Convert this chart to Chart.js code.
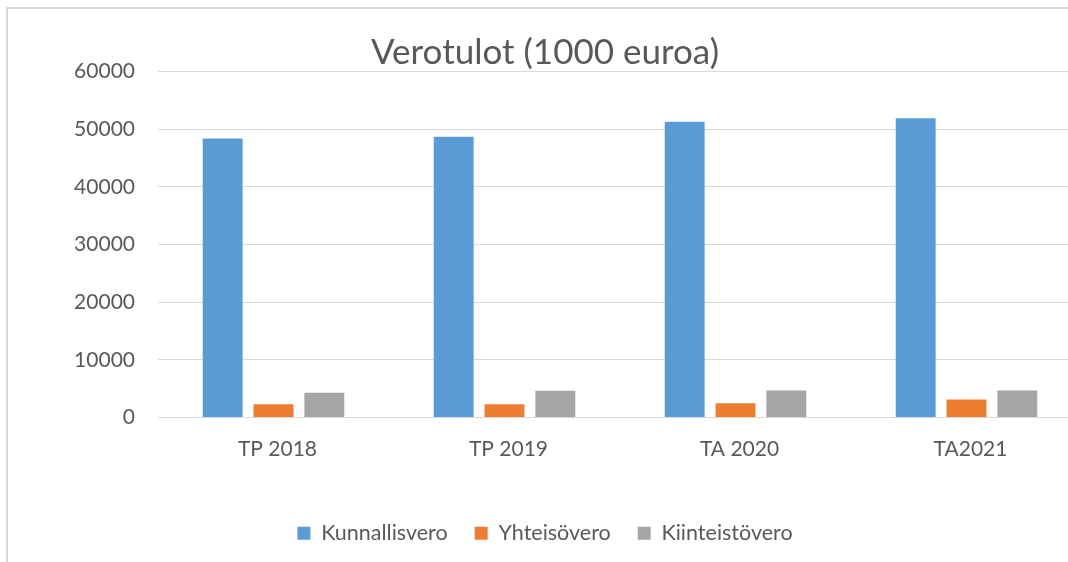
<!DOCTYPE html>
<html>
<head>
<meta charset="utf-8">
<script src="https://cdn.jsdelivr.net/npm/chart.js@4"></script>
<style>
  html, body { margin: 0; padding: 0; background: #fff; overflow: hidden; width: 1068px; height: 562px; }
  #frame { position: absolute; left: 6px; top: 7px; width: 1200px; height: 700px; border-left: 2px solid #d9d9d9; border-top: 2px solid #d9d9d9; }
  #wrap { position: absolute; left: 0; top: 0; width: 1100px; height: 562px; }
</style>
</head>
<body>
<div id="frame"></div>
<div id="wrap"><canvas id="c" width="1100" height="562"></canvas></div>
<script>
const categories = ["TP 2018", "TP 2019", "TA 2020", "TA2021"];
const kunnallisvero = [48400, 48700, 51300, 51900];
const yhteisovero = [2310, 2310, 2490, 3130];
const kiinteistovero = [4290, 4640, 4700, 4700];
const seriesNames = ["Kunnallisvero", "Yhteisövero", "Kiinteistövero"];
const yTicks = [0, 10000, 20000, 30000, 40000, 50000, 60000];
const titleText = "Verotulot (1000 euroa)";

const textColor = "#595959";
const fontFamily = "Lato, 'Open Sans', sans-serif";

new Chart(document.getElementById("c"), {
  type: "bar",
  data: {
    labels: categories,
    datasets: [
      { label: seriesNames[0], data: kunnallisvero, backgroundColor: "#5B9BD5" },
      { label: seriesNames[1], data: yhteisovero, backgroundColor: "#ED7D31" },
      { label: seriesNames[2], data: kiinteistovero, backgroundColor: "#A5A5A5" }
    ]
  },
  options: {
    responsive: false,
    animation: false,
    datasets: { bar: { categoryPercentage: 0.66, barPercentage: 0.785 } },
    layout: { padding: { left: 8, right: 18, top: 0, bottom: 8 } },
    plugins: {
      title: {
        display: true, text: titleText, color: textColor,
        font: { family: fontFamily, size: 35, weight: "normal", lineHeight: 1.057 },
        padding: { top: 34.5, bottom: 0 }
      },
      legend: {
        position: "bottom",
        labels: {
          color: textColor, boxWidth: 13, boxHeight: 13, padding: 27,
          font: { family: fontFamily, size: 21.5 }
        }
      },
      tooltip: { enabled: false }
    },
    scales: {
      x: {
        grid: { display: false, drawTicks: false },
        border: { display: true, color: "#d9d9d9", width: 1 },
        ticks: { color: textColor, font: { family: fontFamily, size: 21 }, padding: 19, labelOffset: 4, maxRotation: 0 },
        afterFit: s => { s.height = 78; }
      },
      y: {
        min: 0, max: 60000,
        afterBuildTicks: s => { s.ticks = yTicks.map(v => ({ value: v })); },
        grid: { color: "#d9d9d9", lineWidth: 1, drawTicks: false },
        border: { display: false },
        ticks: { color: textColor, font: { family: fontFamily, size: 21 }, padding: 23, callback: v => String(v) },
        afterFit: s => { s.width = 150; }
      }
    }
  }
});
</script>
</body>
</html>
